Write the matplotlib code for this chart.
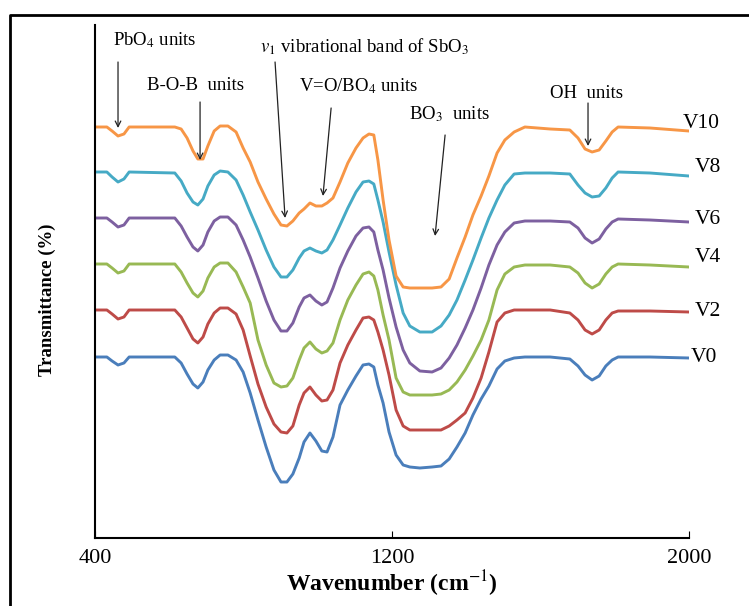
import matplotlib
matplotlib.use("Agg")
import matplotlib.pyplot as plt
from matplotlib.lines import Line2D

plt.rcParams['font.family'] = ['Liberation Serif', 'DejaVu Serif']
plt.rcParams['mathtext.fontset'] = 'stix'

# wavenumber grid (cm-1), shared by all spectra
wavenumber = [400, 432, 446, 462, 478, 492, 615, 632, 648, 664, 677, 691, 704, 721,
              737, 758, 780, 799, 818, 839, 861, 882, 901, 917, 933, 950, 963, 979,
              995, 1011, 1025, 1041, 1060, 1081, 1103, 1122, 1138, 1151, 1162, 1176,
              1192, 1211, 1230, 1248, 1275, 1308, 1332, 1354, 1375, 1397, 1418, 1440,
              1461, 1483, 1504, 1529, 1558, 1626, 1679, 1701, 1720, 1739, 1758, 1776,
              1793, 1809, 1895, 2000]

# transmittance (arbitrary units, curves stacked)
v0 = [181, 181, 177, 173, 175, 181, 181, 175, 164, 154, 150, 156, 168, 178, 183, 183,
      178, 166, 145, 118, 91, 68, 56, 56, 64, 80, 96, 105, 97, 87, 86, 101, 133, 148,
      162, 173, 174, 171, 153, 135, 106, 83, 73, 71, 70, 71, 72, 79, 91, 105, 123, 139,
      152, 169, 177, 180, 181, 181, 179, 172, 163, 158, 162, 172, 178, 181, 181, 180]
v2 = [228, 228, 224, 219, 221, 228, 228, 221, 210, 199, 195, 201, 214, 225, 230, 230,
      224, 208, 182, 154, 131, 114, 106, 105, 112, 133, 145, 151, 143, 137, 138, 148,
      175, 193, 208, 220, 221, 218, 206, 188, 163, 128, 112, 108, 108, 108, 108, 112,
      118, 125, 140, 160, 186, 216, 225, 228, 228, 228, 225, 218, 208, 204, 208, 218,
      225, 227, 227, 226]
v4 = [274, 274, 270, 265, 267, 274, 274, 266, 255, 245, 241, 247, 260, 271, 275, 275,
      266, 251, 235, 198, 173, 155, 151, 152, 160, 178, 190, 196, 189, 185, 187, 195,
      218, 238, 253, 264, 266, 262, 248, 223, 198, 160, 146, 143, 143, 143, 144, 148,
      156, 168, 182, 198, 218, 248, 264, 271, 273, 273, 271, 265, 255, 250, 254, 264,
      271, 274, 273, 271]
v6 = [320, 320, 316, 311, 313, 320, 320, 312, 301, 291, 287, 293, 306, 317, 321, 321,
      313, 298, 281, 260, 237, 218, 207, 207, 215, 231, 240, 243, 237, 233, 236, 250,
      270, 287, 302, 310, 311, 306, 288, 268, 240, 211, 188, 175, 167, 166, 170, 180,
      193, 210, 228, 250, 273, 293, 306, 315, 317, 317, 316, 310, 300, 295, 299, 309,
      316, 319, 318, 316]
v8 = [366, 366, 361, 356, 359, 366, 365, 357, 345, 336, 333, 339, 352, 363, 367, 366,
      358, 343, 326, 308, 288, 271, 261, 261, 268, 280, 287, 290, 287, 285, 288, 298,
      313, 330, 346, 356, 357, 354, 338, 316, 286, 253, 225, 212, 206, 206, 212, 223,
      238, 258, 278, 300, 320, 338, 353, 364, 365, 365, 364, 353, 345, 341, 342, 350,
      360, 366, 365, 362]
v10 = [411, 411, 407, 402, 404, 411, 411, 409, 400, 387, 379, 379, 392, 407, 412, 412,
       406, 390, 376, 356, 339, 324, 313, 312, 317, 325, 329, 335, 332, 332, 335, 340,
       356, 375, 390, 400, 404, 403, 378, 338, 298, 262, 251, 250, 250, 250, 251, 259,
       280, 301, 323, 342, 362, 385, 398, 406, 411, 409, 408, 400, 389, 386, 388, 397,
       406, 411, 410, 407]

series = [v0, v2, v4, v6, v8, v10]
names = ['V0', 'V2', 'V4', 'V6', 'V8', 'V10']
colors = ['#4A7EBB', '#BE4B48', '#98B954', '#7D60A0', '#46AAC5', '#F79646']
label_pos = [(2005, 180), (2016, 226), (2016, 280), (2016, 318), (2016, 371), (1984, 415)]

# band annotations: text, text position, arrow tail, arrow head
bands = [
    ('PbO$_4$ units', (560, 498), (462, 476), (462, 410)),
    ('B-O-B  units', (672, 452), (683, 436), (683, 378)),
    ('$v_1$ vibrational band of SbO$_3$', (1125, 491), (885, 476), (912, 320)),
    ('V=O/BO$_4$ units', (1110, 452), (1036, 430), (1014, 342)),
    ('BO$_3$  units', (1356, 424), (1343, 403), (1316, 302)),
    ('OH  units', (1725, 445), (1728, 435), (1728, 392)),
]

fig = plt.figure(figsize=(7.49, 6.06), dpi=100)
ax = fig.add_axes([95 / 749, 1 - 538 / 606, 594 / 749, 513 / 606])

for y, c in zip(series, colors):
    ax.plot(wavenumber, y, color=c, lw=2.1, solid_joinstyle='round')

for n, (x, y) in zip(names, label_pos):
    ax.text(x, y, n, fontsize=15.5, ha='left', va='center', clip_on=False)

for txt, tpos, tail, head in bands:
    ax.text(tpos[0], tpos[1], txt, fontsize=13.5, ha='center', va='center')
    ax.annotate('', xy=head, xytext=tail,
                arrowprops=dict(arrowstyle='->', color='#222222', lw=0.9,
                                shrinkA=0, shrinkB=0))

ax.set_xlim(400, 2000)
ax.set_ylim(0, 513)
ax.set_xticks([400, 1200, 2000])
ax.tick_params(axis='x', direction='in', length=5, labelsize=16, pad=8)
ax.set_yticks([])
ax.spines['top'].set_visible(False)
ax.spines['right'].set_visible(False)
ax.spines['left'].set_linewidth(1.5)
ax.spines['bottom'].set_linewidth(1.5)
ax.set_xlabel('Wavenumber (cm$^{-1}$)', fontsize=17, fontweight='bold', labelpad=0)
ax.set_ylabel('Transmittance (%)', fontsize=13.5, fontweight='bold')
ax.yaxis.set_label_coords(-0.066, 0.464)

# outer frame
fig.add_artist(Line2D([10 / 749, 10 / 749, 1.0], [0, 1 - 15 / 606, 1 - 15 / 606],
                      color='black', lw=2, transform=fig.transFigure))

fig.savefig('out.png', dpi=100)
